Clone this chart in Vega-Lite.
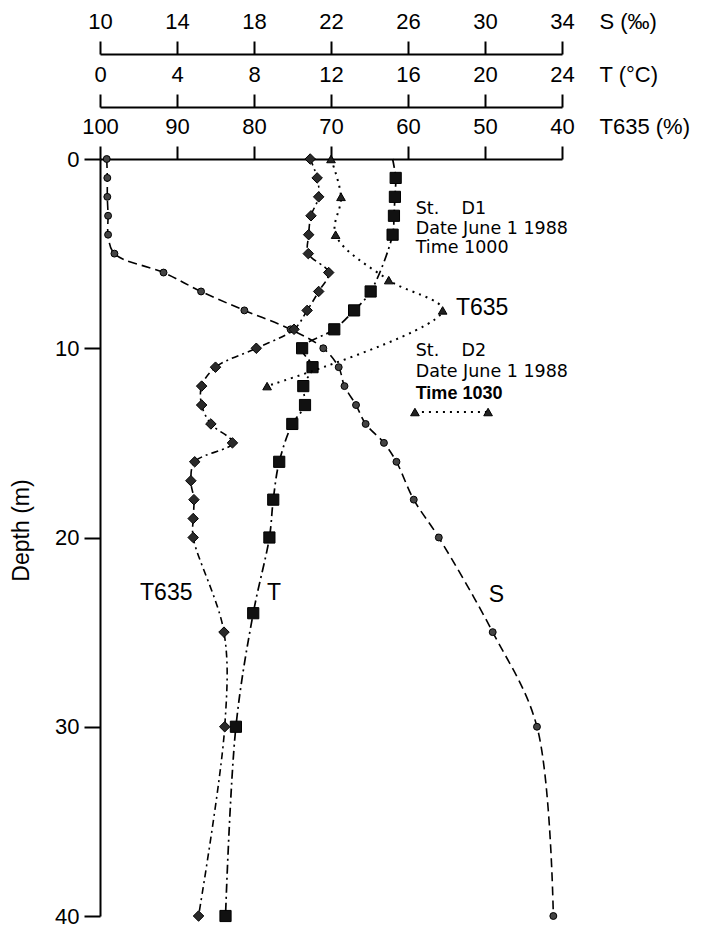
{
  "$schema": "https://vega.github.io/schema/vega-lite/v6.json",
  "width": 462,
  "height": 757,
  "autosize": {"type": "none"},
  "padding": {"left": 100, "top": 159, "right": 145, "bottom": 11},
  "background": "white",
  "config": {
    "view": {"stroke": null},
    "axis": {
      "grid": false,
      "domainColor": "black",
      "tickColor": "black",
      "labelColor": "black",
      "titleColor": "black",
      "labelFont": "Liberation Sans",
      "titleFont": "Liberation Sans",
      "labelFontSize": 22,
      "titleFontSize": 22,
      "titleFontWeight": "normal",
      "domainWidth": 2,
      "tickWidth": 2,
      "labelOverlap": false
    }
  },
  "datasets": {
    "profiles": [
      {"series": "S", "depth": 0, "value": 10.35},
      {"series": "S", "depth": 1, "value": 10.38},
      {"series": "S", "depth": 2, "value": 10.38},
      {"series": "S", "depth": 3, "value": 10.42},
      {"series": "S", "depth": 4, "value": 10.42},
      {"series": "S", "depth": 5, "value": 10.75},
      {"series": "S", "depth": 6, "value": 13.3},
      {"series": "S", "depth": 7, "value": 15.25},
      {"series": "S", "depth": 8, "value": 17.5},
      {"series": "S", "depth": 9, "value": 19.9},
      {"series": "S", "depth": 10, "value": 21.6},
      {"series": "S", "depth": 11, "value": 22.4},
      {"series": "S", "depth": 12, "value": 22.7},
      {"series": "S", "depth": 13, "value": 23.3},
      {"series": "S", "depth": 14, "value": 23.8},
      {"series": "S", "depth": 15, "value": 24.75},
      {"series": "S", "depth": 16, "value": 25.4},
      {"series": "S", "depth": 18, "value": 26.3},
      {"series": "S", "depth": 20, "value": 27.6},
      {"series": "S", "depth": 25, "value": 30.4},
      {"series": "S", "depth": 30, "value": 32.7},
      {"series": "S", "depth": 40, "value": 33.55},
      {"series": "T", "depth": 0, "value": 15.2},
      {"series": "T", "depth": 1, "value": 15.36},
      {"series": "T", "depth": 2, "value": 15.32},
      {"series": "T", "depth": 3, "value": 15.27},
      {"series": "T", "depth": 4, "value": 15.2},
      {"series": "T", "depth": 7, "value": 14.06},
      {"series": "T", "depth": 8, "value": 13.2},
      {"series": "T", "depth": 9, "value": 12.17},
      {"series": "T", "depth": 10, "value": 10.5},
      {"series": "T", "depth": 11, "value": 11.04},
      {"series": "T", "depth": 12, "value": 10.56},
      {"series": "T", "depth": 13, "value": 10.65},
      {"series": "T", "depth": 14, "value": 9.99},
      {"series": "T", "depth": 16, "value": 9.31},
      {"series": "T", "depth": 18, "value": 9.0},
      {"series": "T", "depth": 20, "value": 8.8},
      {"series": "T", "depth": 24, "value": 7.96},
      {"series": "T", "depth": 30, "value": 7.06},
      {"series": "T", "depth": 40, "value": 6.52},
      {"series": "D1", "depth": 0, "value": 72.7},
      {"series": "D1", "depth": 1, "value": 71.8},
      {"series": "D1", "depth": 2, "value": 71.6},
      {"series": "D1", "depth": 3, "value": 72.6},
      {"series": "D1", "depth": 4, "value": 72.9},
      {"series": "D1", "depth": 5, "value": 72.95},
      {"series": "D1", "depth": 6, "value": 70.3},
      {"series": "D1", "depth": 7, "value": 71.6},
      {"series": "D1", "depth": 8, "value": 73.1},
      {"series": "D1", "depth": 9, "value": 74.8},
      {"series": "D1", "depth": 10, "value": 79.7},
      {"series": "D1", "depth": 11, "value": 85.0},
      {"series": "D1", "depth": 12, "value": 86.8},
      {"series": "D1", "depth": 13, "value": 86.8},
      {"series": "D1", "depth": 14, "value": 85.6},
      {"series": "D1", "depth": 15, "value": 82.8},
      {"series": "D1", "depth": 16, "value": 87.7},
      {"series": "D1", "depth": 17, "value": 88.2},
      {"series": "D1", "depth": 18, "value": 87.8},
      {"series": "D1", "depth": 19, "value": 87.9},
      {"series": "D1", "depth": 20, "value": 87.9},
      {"series": "D1", "depth": 25, "value": 83.9},
      {"series": "D1", "depth": 30, "value": 83.8},
      {"series": "D1", "depth": 40, "value": 87.2},
      {"series": "D2", "depth": 0, "value": 70.0},
      {"series": "D2", "depth": 2, "value": 68.7},
      {"series": "D2", "depth": 4, "value": 69.4},
      {"series": "D2", "depth": 6.4, "value": 62.5},
      {"series": "D2", "depth": 8, "value": 55.5},
      {"series": "D2", "depth": 12, "value": 78.3},
      {"series": "D2key", "depth": 13.37, "value": 59.1},
      {"series": "D2key", "depth": 13.37, "value": 49.6}
    ],
    "station": [
      {"text": "St.\u00a0\u00a0\u00a0\u00a0D1", "value": 59, "depth": 2.906},
      {"text": "Date June 1 1988", "value": 59, "depth": 3.963},
      {"text": "Time 1000", "value": 59, "depth": 4.967},
      {"text": "St.\u00a0\u00a0\u00a0\u00a0D2", "value": 59, "depth": 10.41},
      {"text": "Date June 1 1988", "value": 59, "depth": 11.52}
    ],
    "stationbold": [
      {"text": "Time 1030", "value": 59, "depth": 12.68}
    ],
    "curvelabels": [
      {"text": "T635", "value": 53.77, "depth": 8.24},
      {"text": "T635", "value": 94.8, "depth": 23.3},
      {"text": "T", "value": 78.3, "depth": 23.3},
      {"text": "S", "value": 49.5, "depth": 23.4}
    ]
  },
  "data": {"name": "profiles"},
  "encoding": {
    "y": {
      "field": "depth",
      "type": "quantitative",
      "scale": {"domain": [0, 40], "reverse": true, "nice": false, "zero": false},
      "axis": {
        "orient": "left",
        "values": [0, 10, 20, 30, 40],
        "title": "Depth (m)",
        "tickSize": 16,
        "labelPadding": 5,
        "titleX": -72,
        "titleY": 371,
        "titleAngle": -90,
        "titleAlign": "center",
        "titleBaseline": "alphabetic",
        "titleFontSize": 23
      }
    }
  },
  "layer": [
    {
      "transform": [{"filter": "datum.series === 'S'"}],
      "encoding": {
        "x": {
          "field": "value",
          "type": "quantitative",
          "scale": {"domain": [10, 34], "nice": false, "zero": false},
          "axis": {
            "orient": "top",
            "offset": 105,
            "values": [10, 14, 18, 22, 26, 30, 34],
            "title": "S (‰)",
            "tickSize": 13,
            "labelPadding": 13,
            "labelBaseline": "alphabetic",
            "labelFlush": false,
            "titleX": 499,
            "titleY": -26,
            "titleAlign": "left",
            "titleBaseline": "alphabetic",
            "titleAngle": 0
          }
        }
      },
      "layer": [
        {
          "mark": {"type": "line", "interpolate": "catmull-rom", "color": "black", "strokeWidth": 1.6, "strokeDash": [9, 5]},
          "encoding": {"order": {"field": "depth", "type": "quantitative"}}
        },
        {
          "mark": {"type": "point", "shape": "circle", "filled": true, "fill": "#444", "stroke": "black", "strokeWidth": 1, "size": 48, "opacity": 1}
        }
      ]
    },
    {
      "transform": [{"filter": "datum.series === 'T'"}],
      "encoding": {
        "x": {
          "field": "value",
          "type": "quantitative",
          "scale": {"domain": [0, 24], "nice": false, "zero": false},
          "axis": {
            "orient": "top",
            "offset": 52,
            "values": [0, 4, 8, 12, 16, 20, 24],
            "title": "T (°C)",
            "tickSize": 13,
            "labelPadding": 13,
            "labelBaseline": "alphabetic",
            "labelFlush": false,
            "titleX": 499,
            "titleY": -26,
            "titleAlign": "left",
            "titleBaseline": "alphabetic",
            "titleAngle": 0
          }
        }
      },
      "layer": [
        {
          "mark": {"type": "line", "interpolate": "catmull-rom", "color": "black", "strokeWidth": 1.7, "strokeDash": [9, 4, 2, 4]},
          "encoding": {"order": {"field": "depth", "type": "quantitative"}}
        },
        {
          "transform": [{"filter": "datum.depth > 0"}],
          "mark": {"type": "point", "shape": "square", "filled": true, "fill": "#111", "stroke": "black", "strokeWidth": 1, "size": 125, "opacity": 1}
        }
      ]
    },
    {
      "encoding": {
        "x": {
          "field": "value",
          "type": "quantitative",
          "scale": {"domain": [100, 40], "nice": false, "zero": false},
          "axis": {
            "orient": "top",
            "offset": 0,
            "values": [100, 90, 80, 70, 60, 50, 40],
            "title": "T635 (%)",
            "tickSize": 13,
            "labelPadding": 13,
            "labelBaseline": "alphabetic",
            "labelFlush": false,
            "titleX": 499,
            "titleY": -26,
            "titleAlign": "left",
            "titleBaseline": "alphabetic",
            "titleAngle": 0
          }
        }
      },
      "layer": [
        {
          "transform": [{"filter": "datum.series === 'D1'"}],
          "mark": {"type": "line", "interpolate": "catmull-rom", "color": "black", "strokeWidth": 1.6, "strokeDash": [7, 4, 2, 4]},
          "encoding": {"order": {"field": "depth", "type": "quantitative"}}
        },
        {
          "transform": [{"filter": "datum.series === 'D1'"}],
          "mark": {"type": "point", "shape": "diamond", "filled": true, "fill": "#2a2a2a", "stroke": "black", "strokeWidth": 1, "size": 110, "opacity": 1}
        },
        {
          "transform": [{"filter": "datum.series === 'D2' || datum.series === 'D2key'"}],
          "mark": {"type": "line", "interpolate": "catmull-rom", "color": "black", "strokeWidth": 2, "strokeDash": [2, 5]},
          "encoding": {"order": {"field": "depth", "type": "quantitative"}, "detail": {"field": "series"}}
        },
        {
          "transform": [{"filter": "datum.series === 'D2' || datum.series === 'D2key'"}],
          "mark": {"type": "point", "shape": "triangle-up", "filled": true, "fill": "#222", "stroke": "black", "strokeWidth": 1, "size": 75, "opacity": 1}
        },
        {
          "data": {"name": "station"},
          "mark": {"type": "text", "font": "DejaVu Sans", "fontSize": 17.5, "align": "left", "baseline": "alphabetic", "color": "black"},
          "encoding": {"text": {"field": "text"}}
        },
        {
          "data": {"name": "stationbold"},
          "mark": {"type": "text", "font": "Liberation Sans", "fontSize": 18, "fontWeight": "bold", "align": "left", "baseline": "alphabetic", "color": "black"},
          "encoding": {"text": {"field": "text"}}
        },
        {
          "data": {"name": "curvelabels"},
          "mark": {"type": "text", "font": "Liberation Sans", "fontSize": 23, "align": "left", "baseline": "alphabetic", "color": "black"},
          "encoding": {"text": {"field": "text"}}
        }
      ]
    }
  ],
  "resolve": {"scale": {"x": "independent"}, "axis": {"x": "independent"}}
}
